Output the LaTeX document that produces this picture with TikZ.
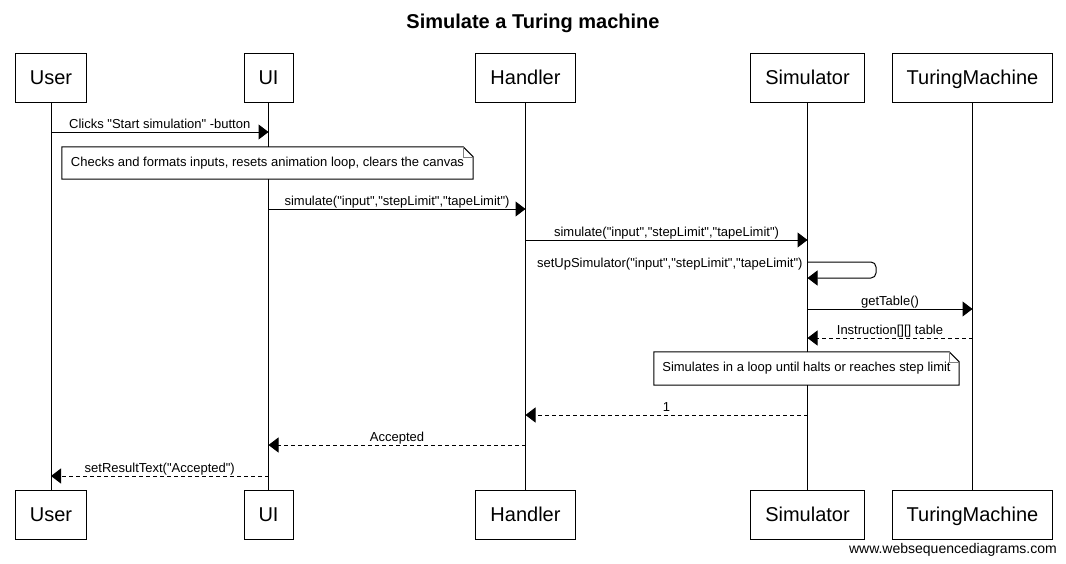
\documentclass[tikz,border=0pt]{standalone}
\usepackage{fontspec}
\setmainfont{Liberation Sans}[Ligatures=TeXOff]
\usetikzlibrary{arrows.meta,positioning}

\begin{document}
\begin{tikzpicture}[
    x=1pt, y=-1pt,
    actor/.style={rectangle, draw=black, line width=1pt,
        minimum height=49pt, inner xsep=14.5pt,
        text height=16pt, text depth=3pt,
        font=\fontsize{20}{24}\selectfont},
    lifeline/.style={line width=1pt},
    msg/.style={line width=1pt, -{Triangle[length=10pt,width=15pt]}},
    reply/.style={msg, dash pattern=on 4pt off 3pt},
    msgtext/.style={anchor=base, inner sep=0pt, yshift=4pt,
        font=\fontsize{13}{15}\selectfont},
    note/.style={rectangle, fill=white, inner sep=0pt,
        font=\fontsize{13}{15}\selectfont}
]
\useasboundingbox (0,0) rectangle (1066,563);

% title
\node[anchor=base, font=\fontsize{20}{24}\selectfont\bfseries] (title) at (533,28) {Simulate a Turing machine};

% participants
\node[actor] (user) at (51,77.5) {User};
\node[actor] (ui) at (268.5,77.5) {UI};
\node[actor] (handler) at (525.5,77.5) {Handler};
\node[actor] (sim) at (807.5,77.5) {Simulator};
\node[actor] (tm) at (972.5,77.5) {TuringMachine};

\node[actor, below=387pt of user] (userB) {User};
\node[actor, below=387pt of ui] (uiB) {UI};
\node[actor, below=387pt of handler] (handlerB) {Handler};
\node[actor, below=387pt of sim] (simB) {Simulator};
\node[actor, below=387pt of tm] (tmB) {TuringMachine};

% lifelines
\draw[lifeline] (user) -- (userB);
\draw[lifeline] (ui) -- (uiB);
\draw[lifeline] (handler) -- (handlerB);
\draw[lifeline] (sim) -- (simB);
\draw[lifeline] (tm) -- (tmB);

% notes
\node[note, minimum width=411pt, minimum height=32pt] (checks) at (267.5,163)
    {Checks and formats inputs, resets animation loop, clears the canvas};
\draw[line width=1pt] (checks.north west) -- ([xshift=-10pt]checks.north east)
    -- ([yshift=-10pt]checks.north east) -- (checks.south east) -- (checks.south west) -- cycle;
\draw[line width=0.6pt, gray] ([xshift=-10pt]checks.north east) |- ([yshift=-10pt]checks.north east);

\node[note, minimum width=305pt, minimum height=33pt] (loop) at (806.5,368.5)
    {Simulates in a loop until halts or reaches step limit};
\draw[line width=1pt] (loop.north west) -- ([xshift=-10pt]loop.north east)
    -- ([yshift=-10pt]loop.north east) -- (loop.south east) -- (loop.south west) -- cycle;
\draw[line width=0.6pt, gray] ([xshift=-10pt]loop.north east) |- ([yshift=-10pt]loop.north east);

% messages
\draw[msg] (user |- 0,132) -- node[msgtext] {Clicks "Start simulation" -button} (ui |- 0,132);
\draw[msg] (ui |- 0,209) -- node[msgtext] {simulate("input","stepLimit","tapeLimit")} (handler |- 0,209);
\draw[msg] (handler |- 0,240) -- node[msgtext] {simulate("input","stepLimit","tapeLimit")} (sim |- 0,240);
\draw[msg, rounded corners=5pt] (sim |- 0,262)
    node[msgtext, anchor=base east, xshift=-4.5pt, yshift=-9.5pt] {setUpSimulator("input","stepLimit","tapeLimit")}
    -| (876,278) -- (sim |- 0,278);
\draw[msg] (sim |- 0,309) -- node[msgtext] {getTable()} (tm |- 0,309);
\draw[reply] (tm |- 0,338) -- node[msgtext] {Instruction[][] table} (sim |- 0,338);
\draw[reply] (sim |- 0,415) -- node[msgtext] {1} (handler |- 0,415);
\draw[reply] (handler |- 0,445) -- node[msgtext] {Accepted} (ui |- 0,445);
\draw[reply] (ui |- 0,476) -- node[msgtext] {setResultText("Accepted")} (user |- 0,476);

% watermark
\node[anchor=base east, inner sep=0pt, font=\fontsize{14}{16}\selectfont] (wsd) at (1057,553) {www.websequencediagrams.com};
\end{tikzpicture}
\end{document}
